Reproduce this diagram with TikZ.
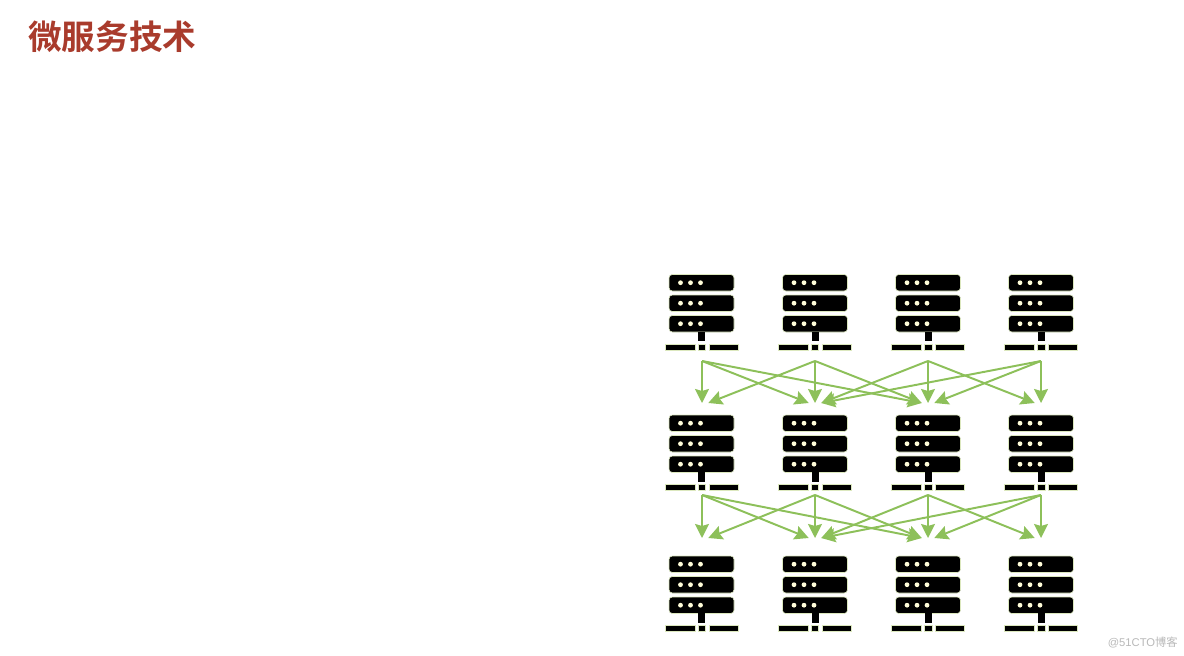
\documentclass[tikz,border=0pt]{standalone}
\usepackage{fontspec}
\setmainfont{Liberation Sans}
\newfontfamily\cjk{Noto Sans CJK SC}
\newfontfamily\cjkbold{Noto Sans CJK SC Bold}
\usetikzlibrary{arrows.meta}
\definecolor{titlered}{HTML}{A93B2C}
\definecolor{linkgreen}{HTML}{8DC05A}
\definecolor{rimgreen}{HTML}{DCE8BE}
\tikzset{
  unit/.style={fill=black,draw=rimgreen,line width=0.4pt,rounded corners=2.4pt},
  foot/.style={fill=black,draw=rimgreen,line width=0.3pt},
  led/.style={fill=white!85!yellow},
  port/.style={inner sep=0pt,minimum width=0.3cm,minimum height=0pt},
  link/.style={linkgreen,line width=1.4pt,-{Stealth[length=3.5mm,width=3.5mm,inset=0.5mm]}},
  pics/server/.style={code={
    \foreach \y in {0,20.5,41} {
      \draw[unit] (-32.5,\y) rectangle (32.5,\y+16.5);
      \foreach \x in {-21,-11,-1}
        \fill[led] (\x,\y+8.2) circle (2.4);
    }
    \fill[black] (-3.5,57) rectangle (3.5,66.5);
    \draw[foot] (-36.5,69.7) rectangle (-6.5,75.7);
    \draw[foot] (-3.7,69.7) rectangle (3.7,75.7);
    \draw[foot] (7.5,69.7) rectangle (36.5,75.7);
  }}
}
\begin{document}
\begin{tikzpicture}[x=0.025cm,y=-0.025cm]
  \useasboundingbox (0,0) rectangle (1184,656);

  \node (title) [anchor=west,text=titlered,font=\cjkbold\fontsize{23.9pt}{26pt}\selectfont,inner sep=0pt]
    at (28,37) {微服务技术};

  % three rows of four servers
  \foreach \r/\t in {1/274.5,2/415,3/556}
    \foreach \c/\x in {1/701.5,2/815,3/928,4/1041}
      \pic (srv\c\r) at (\x,\t) {server};

  % ports where the links leave and arrive
  \foreach \c/\x in {1/702,2/815,3/928,4/1041} {
    \node (out\c1) [port] at (\x,361) {};
    \node (in\c1) [port] at (\x,403) {};
    \node (out\c2) [port] at (\x,495) {};
    \node (in\c2) [port] at (\x,538) {};
  }

  \foreach \r in {1,2}
    \foreach \a/\b/\side in {1/1/center,1/2/west,1/3/west,
                             2/1/east,2/2/center,2/3/west,
                             3/2/east,3/3/center,3/4/west,
                             4/2/east,4/3/east,4/4/center}
      \draw[link] (out\a\r.center) -- (in\b\r.\side);

  \node (mark) [anchor=east,text=black!28,font=\fontsize{8pt}{9pt}\selectfont,inner sep=0pt]
    at (1178,642) {@51CTO{\cjk 博客}};
\end{tikzpicture}
\end{document}
